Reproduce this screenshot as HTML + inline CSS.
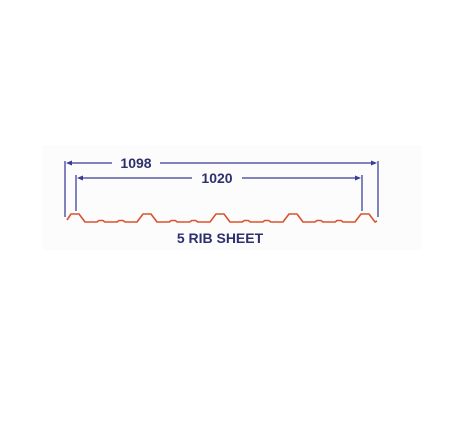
<!DOCTYPE html>
<html><head><meta charset="utf-8"><style>
html,body{margin:0;padding:0;background:#fff;width:464px;height:421px;overflow:hidden}
svg{display:block}
text{font-family:"Liberation Sans",sans-serif;font-weight:bold;fill:#2e2f6e}
</style></head><body>
<svg width="464" height="421">
<rect x="42" y="145" width="380" height="105" fill="#fcfcfc"/>
<g stroke="#5a5aa8" stroke-width="1.5" fill="none">
<line x1="65" y1="161" x2="65" y2="217"/>
<line x1="378" y1="161" x2="378" y2="217"/>
<line x1="76" y1="175" x2="76" y2="211"/>
<line x1="362" y1="175" x2="362" y2="211"/>
<line x1="68" y1="163" x2="112" y2="163"/>
<line x1="160" y1="163" x2="375" y2="163"/>
<line x1="79" y1="178" x2="192" y2="178"/>
<line x1="242" y1="178" x2="359" y2="178"/>
</g>
<g fill="#3a3a98">
<polygon points="66,163 72,160.5 72,165.5"/>
<polygon points="377,163 371,160.5 371,165.5"/>
<polygon points="77,178 83,175.5 83,180.5"/>
<polygon points="361,178 355,175.5 355,180.5"/>
</g>
<text x="136" y="168" font-size="14" text-anchor="middle">1098</text>
<text x="217" y="183" font-size="14" text-anchor="middle">1020</text>
<path id="profile" fill="none" stroke="#d9532e" stroke-width="1.6" stroke-linejoin="round"/>
<text x="220" y="243" font-size="14" text-anchor="middle">5 RIB SHEET</text>
</svg>
<script>
const ribCenters=[75,147,220,293,365];
const ribHeight=8;
const base=222;
let d="M67,"+(base-2)+" L"+(ribCenters[0]-4)+","+(base-ribHeight);
for(let i=0;i<ribCenters.length;i++){
  const c=ribCenters[i];
  if(i>0){d+=" L"+(c-10)+","+base+" L"+(c-4)+","+(base-ribHeight);}
  d+=" L"+(c+4)+","+(base-ribHeight)+" L"+(c+10)+","+base;
  if(i<ribCenters.length-1){
    const n=ribCenters[i+1];
    const a=c+(n-c)*0.36,b=c+(n-c)*0.64;
    [a,b].forEach(m=>{d+=" L"+(m-4)+","+base+" L"+(m-2)+","+(base-1.5)+" L"+(m+2)+","+(base-1.5)+" L"+(m+4)+","+base;});
  }
}
d+=" L377,"+(base-1);
const p=document.getElementById('profile');
p.setAttribute('d',d);
</script>
</body></html>
